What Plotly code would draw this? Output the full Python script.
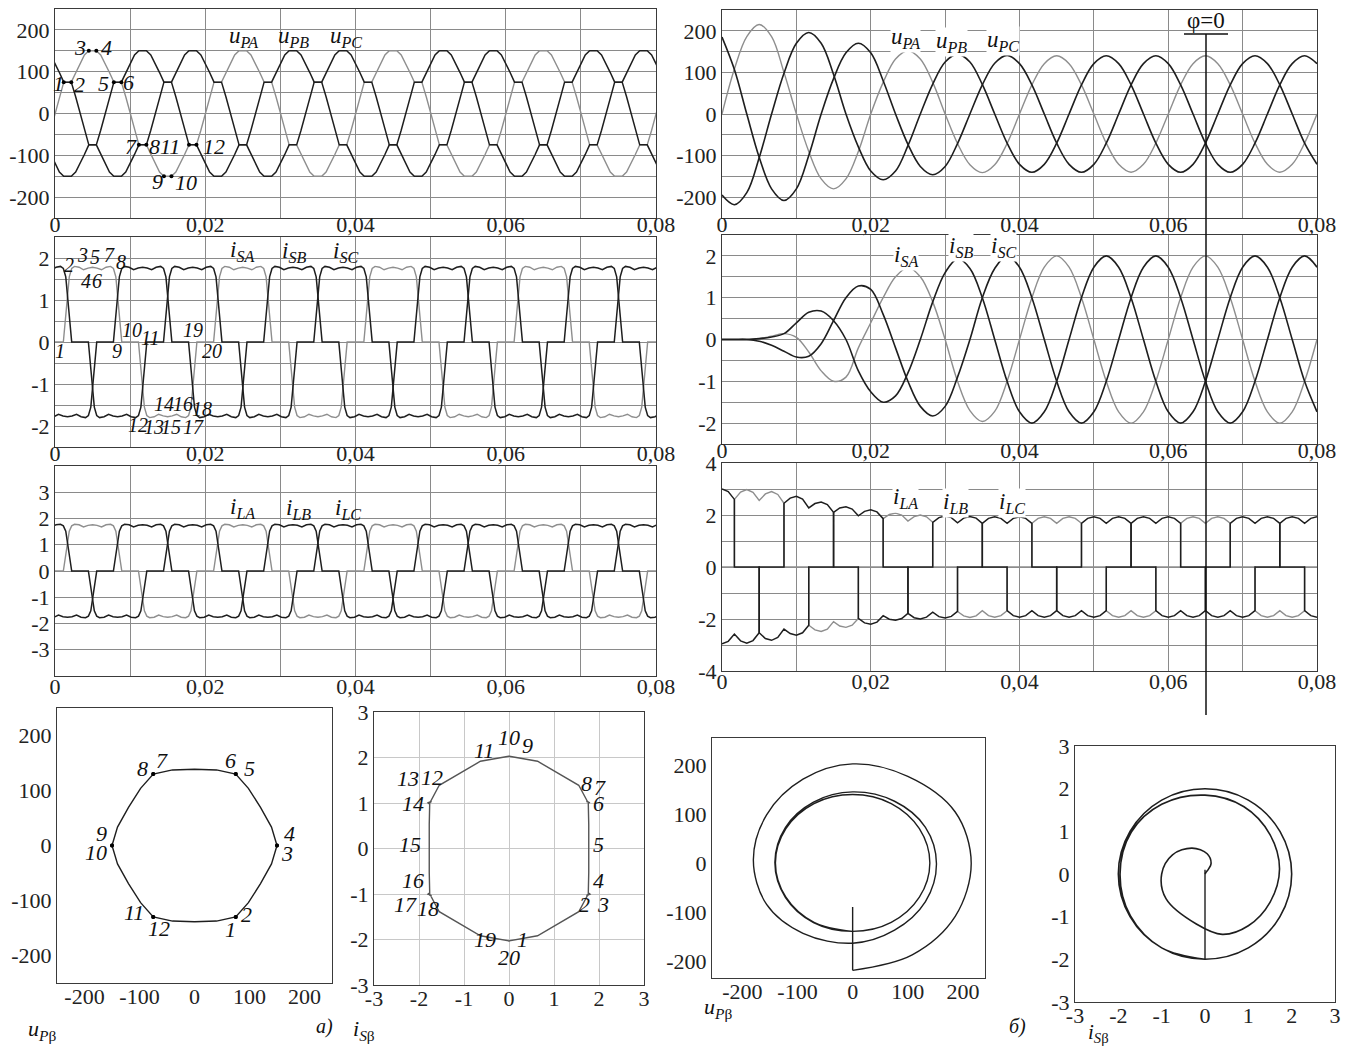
import numpy as np
import plotly.graph_objects as go

W, H = 1349, 1047
T_PERIOD = 0.02
SQ3 = np.sqrt(3.0)

# ---------------- DATA ----------------
# Left column (steady state): one period of phase A, B and C are the same wave lagging by T/3, 2T/3
UPA_T = [0, 0.000583, 0.001167, 0.002167, 0.00275, 0.003333, 0.003917, 0.0045, 0.0055, 0.006083,
         0.006667, 0.00725, 0.007833, 0.008833, 0.009417, 0.01, 0.010583, 0.011167, 0.012167,
         0.01275, 0.013333, 0.013917, 0.0145, 0.0155, 0.016083, 0.016667, 0.01725, 0.017833,
         0.018833, 0.019417, 0.02]
UPA_V = [0, 40, 75, 75, 98, 120, 140, 150, 150, 140, 120, 98, 75, 75, 40, 0, -40, -75, -75,
         -98, -120, -140, -150, -150, -140, -120, -98, -75, -75, -40, 0]

ISA_T = [0, 0.00111, 0.0019, 0.00222, 0.0026, 0.0032, 0.0038, 0.0044, 0.005, 0.0056, 0.0062,
         0.0068, 0.0074, 0.00778, 0.0081, 0.00889, 0.01111, 0.0119, 0.01222, 0.0126, 0.0132,
         0.0138, 0.0144, 0.015, 0.0156, 0.0162, 0.0168, 0.0174, 0.01778, 0.0181, 0.01889, 0.02]
ISA_V = [0, 0, 1.55, 1.75, 1.8, 1.78, 1.72, 1.76, 1.78, 1.76, 1.72, 1.78, 1.8, 1.75, 1.55, 0,
         0, -1.55, -1.75, -1.8, -1.78, -1.72, -1.76, -1.78, -1.76, -1.72, -1.78, -1.8, -1.75,
         -1.55, 0, 0]

ILA_T = ISA_T
ILA_V = [0, 0, 1.52, 1.72, 1.78, 1.76, 1.68, 1.74, 1.76, 1.74, 1.68, 1.76, 1.78, 1.72, 1.52, 0,
         0, -1.52, -1.72, -1.78, -1.76, -1.68, -1.74, -1.76, -1.74, -1.68, -1.76, -1.78, -1.72,
         -1.52, 0, 0]

# Right column (start-up): samples every 1/600 s (k = 0..48)
UR_A = [0, 108, 186, 215, 186, 100, 0, -90, -156, -180, -156, -90, 0, 76, 132, 152, 132, 76,
        0, -71, -122, -141, -122, -71, 0, 70, 121, 140, 121, 70, 0, -70, -121, -140, -121, -70,
        0, 70, 121, 140, 121, 70, 0, -70, -121, -140, -121, -70, 0]
UR_B = [-195, -218, -189, -105, 0, 98, 170, 196, 170, 95, 0, -79, -137, -158, -137, -76, 0, 72,
        125, 144, 125, 71, 0, -70, -121, -140, -121, -70, 0, 70, 121, 140, 121, 70, 0, -70,
        -121, -140, -121, -70, 0, 70, 121, 140, 121, 70, 0, -70, -121]
UR_C = [185, 107, 0, -104, -180, -208, -180, -100, 0, 85, 147, 170, 147, 80, 0, -73, -126, -146,
        -126, -71, 0, 70, 122, 141, 121, 70, 0, -70, -121, -140, -121, -70, 0, 70, 121, 140,
        121, 70, 0, -70, -121, -140, -121, -70, 0, 70, 121, 140, 121]

IR_A = [0, 0, 0, 0.02, 0.08, 0.14, 0.05, -0.3, -0.75, -1.0, -0.9, -0.2, 0.4, 1.0, 1.5, 1.72,
        1.5, 0.9, 0, -1.0, -1.7, -1.96, -1.72, -1.0, 0, 1.0, 1.73, 2.0, 1.73, 1.0, 0, -1.0,
        -1.73, -2.0, -1.73, -1.0, 0, 1.0, 1.73, 2.0, 1.73, 1.0, 0, -1.0, -1.73, -2.0, -1.73, -1.0, 0]
IR_B = [0, 0, 0, 0.02, 0.06, 0.14, 0.4, 0.65, 0.68, 0.45, 0, -0.75, -1.25, -1.5, -1.35, -0.8,
        0, 0.9, 1.6, 1.93, 1.7, 1.0, 0, -1.0, -1.73, -2.0, -1.73, -1.0, 0, 1.0, 1.73, 2.0,
        1.73, 1.0, 0, -1.0, -1.73, -2.0, -1.73, -1.0, 0, 1.0, 1.73, 2.0, 1.73, 1.0, 0, -1.0, -1.73]
IR_C = [0, 0, 0, -0.04, -0.14, -0.28, -0.42, -0.4, -0.1, 0.45, 1.0, 1.28, 1.2, 0.6, -0.2, -1.0,
        -1.6, -1.83, -1.6, -0.9, 0, 1.0, 1.7, 2.0, 1.73, 1.0, 0, -1.0, -1.73, -2.0, -1.73, -1.0,
        0, 1.0, 1.73, 2.0, 1.73, 1.0, 0, -1.0, -1.73, -2.0, -1.73, -1.0, 0, 1.0, 1.73, 2.0, 1.73]

# Right i_L: scalloped upper / lower envelopes, samples every 1/1200 s (j = 0..96)
ENV_TOP = [3.00, 2.90, 2.60, 2.88, 2.98, 2.87, 2.56, 2.81, 2.90, 2.79, 2.45, 2.65, 2.72, 2.61,
           2.27, 2.44, 2.50, 2.40, 2.10, 2.27, 2.32, 2.23, 1.97, 2.14, 2.20, 2.12, 1.86, 2.02,
           2.07, 2.00, 1.77, 1.94, 2.00, 1.93, 1.72, 1.90, 1.96, 1.90, 1.70, 1.88, 1.94, 1.88,
           1.68, 1.87] + [1.93, 1.87, 1.68, 1.87] * 13 + [1.93]
ENV_BOT = [-2.95, -2.86, -2.58, -2.84, -2.93, -2.83, -2.53, -2.75, -2.82, -2.71, -2.39, -2.56,
           -2.62, -2.53, -2.24, -2.42, -2.48, -2.39, -2.10, -2.27, -2.32, -2.24, -1.98, -2.15,
           -2.20, -2.12, -1.87, -2.01, -2.05, -1.98, -1.78, -1.95, -2.00, -1.93, -1.74, -1.91,
           -1.96, -1.90, -1.71, -1.88, -1.94, -1.88, -1.68, -1.87] + [-1.93, -1.87, -1.68, -1.87] * 13 + [-1.93]
# conduction state of each phase in the 60-degree intervals m = 0..24 (+1 top, 0 zero, -1 bottom)
STATE_A = [0, 1, 1, 0, -1, -1, 0, 1, 1, 0, -1, -1, 0, 1, 1, 0, -1, -1, 0, 1, 1, 0, -1, -1, 0]
STATE_B = [-1, -1, 0, 1, 1, 0, -1, -1, 0, 1, 1, 0, -1, -1, 0, 1, 1, 0, -1, -1, 0, 1, 1, 0, -1]
STATE_C = [1, 0, -1, -1, 0, 1, 1, 0, -1, -1, 0, 1, 1, 0, -1, -1, 0, 1, 1, 0, -1, -1, 0, 1, 1]

# start-up stems seen in the right-hand hodographs (beta values on the alpha = 0 line)
U_STEM_TOP = -90
I_STEM_TOP = 0.1
I_STEM_BOTTOM = -2.0

X_TICKS = [0, 0.01, 0.02, 0.03, 0.04, 0.05, 0.06, 0.07, 0.08]
X_TICK_TEXT = ["0", "", "0,02", "", "0,04", "", "0,06", "", "0,08"]

# ---------------- STYLE ----------------
DARK = "#1e1e1e"
GRAY = "#8e8e8e"
GRIDC = "#8a8a8a"
FONT = "Liberation Serif, Times New Roman, serif"


def dom_x(x0, x1):
    return [x0 / W, x1 / W]


def dom_y(y0, y1):
    return [1 - y1 / H, 1 - y0 / H]


def tile(t, v, n0=-1, n1=5):
    tt, vv = [], []
    for n in range(n0, n1):
        tt += [x + n * T_PERIOD for x in t[:-1]]
        vv += list(v[:-1])
    return np.array(tt), np.array(vv)


fig = go.Figure()
annotations = []
shapes = []
layout = {}

PANELS = {
    1: (55, 656, 9, 218),
    2: (55, 656, 237, 447),
    3: (55, 656, 466, 676),
    4: (722, 1317, 10, 218),
    5: (722, 1317, 235, 444),
    6: (722, 1317, 463, 671),
    7: (57, 332, 708, 983),
    8: (374, 644, 712, 985),
    9: (712, 985, 738, 978),
    10: (1075, 1335, 746, 1002),
}


def axkey(i, c):
    return f"{c}axis" if i == 1 else f"{c}axis{i}"


def ref(i, c):
    return c if i == 1 else f"{c}{i}"


tickfont = dict(family=FONT, size=22, color="#222")


def set_axes(i, xr, yr, xtv, xtt, ytv, ytt, grid=True, standoff=-13):
    x0, x1, y0, y1 = PANELS[i]
    common = dict(showline=True, mirror=True, linecolor="#3a3a3a", linewidth=1, ticks="",
                  zeroline=False, showgrid=grid, gridcolor=GRIDC, gridwidth=1,
                  tickfont=tickfont, tickmode="array", fixedrange=True, automargin=False)
    layout[axkey(i, "x")] = dict(domain=dom_x(x0, x1), range=xr, tickvals=xtv, ticktext=xtt,
                                 anchor=ref(i, "y"), ticklabelstandoff=standoff, **common)
    layout[axkey(i, "y")] = dict(domain=dom_y(y0, y1), range=yr, tickvals=ytv, ticktext=ytt,
                                 anchor=ref(i, "x"), **common)


def line(i, x, y, color, width=1.5, shape="linear"):
    fig.add_trace(go.Scatter(x=x, y=y, mode="lines", line=dict(color=color, width=width, shape=shape),
                             xaxis=ref(i, "x"), yaxis=ref(i, "y"), showlegend=False, hoverinfo="skip"))


def dots(i, x, y, size=4):
    fig.add_trace(go.Scatter(x=x, y=y, mode="markers", marker=dict(color="#000", size=size),
                             xaxis=ref(i, "x"), yaxis=ref(i, "y"), showlegend=False, hoverinfo="skip"))


def label(i, text, x, y, size=20, bg=None):
    d = dict(text=text, x=x, y=y, xref=ref(i, "x"), yref=ref(i, "y"), showarrow=False,
             xanchor="center", yanchor="middle",
             font=dict(family=FONT, size=size, color="#111"))
    if bg:
        d["bgcolor"] = bg
        d["borderpad"] = 0
    annotations.append(d)


def ptext(text, px, py, size=20):
    annotations.append(dict(text=text, x=px / W, y=1 - py / H, xref="paper", yref="paper",
                            xanchor="center", yanchor="middle", showarrow=False,
                            font=dict(family=FONT, size=size, color="#111")))


# ---------------- time plots axes ----------------
u_grid = list(range(-250, 251, 50))
u_txt = [str(v) if v in (-200, -100, 0, 100, 200) else "" for v in u_grid]
i_grid = [x / 2 for x in range(-5, 6)]
i_txt = [str(int(v)) if float(v).is_integer() and abs(v) <= 2 else "" for v in i_grid]
l_grid = list(range(-4, 5))
l_txt_left = [str(v) if abs(v) <= 3 else "" for v in l_grid]
l_txt_right = [str(v) if v % 2 == 0 else "" for v in l_grid]

set_axes(1, [0, 0.08], [-250, 250], X_TICKS, X_TICK_TEXT, u_grid, u_txt)
set_axes(2, [0, 0.08], [-2.5, 2.5], X_TICKS, X_TICK_TEXT, i_grid, i_txt)
set_axes(3, [0, 0.08], [-4, 4], X_TICKS, X_TICK_TEXT, l_grid, l_txt_left, standoff=-9)
set_axes(4, [0, 0.08], [-250, 250], X_TICKS, X_TICK_TEXT, u_grid, u_txt)
set_axes(5, [0, 0.08], [-2.5, 2.5], X_TICKS, X_TICK_TEXT, i_grid, i_txt)
set_axes(6, [0, 0.08], [-4, 4], X_TICKS, X_TICK_TEXT, l_grid, l_txt_right, standoff=-9)

# ---------------- left time plots ----------------
for panel, (T, V) in [(1, (UPA_T, UPA_V)), (2, (ISA_T, ISA_V)), (3, (ILA_T, ILA_V))]:
    ta, va = tile(T, V)
    line(panel, ta, va, GRAY, 1.4)
    line(panel, ta + T_PERIOD / 3, va, DARK, 1.5)
    line(panel, ta + 2 * T_PERIOD / 3, va, DARK, 1.5)

# dwell points of u_PA (labelled 1..12)
dw_t, dw_v = [], []
for k in range(len(UPA_V) - 1):
    if UPA_V[k] == UPA_V[k + 1] and UPA_V[k] != 0:
        dw_t += [UPA_T[k], UPA_T[k + 1]]
        dw_v += [UPA_V[k], UPA_V[k + 1]]
dots(1, dw_t, dw_v, 4)

# ---------------- right time plots ----------------
tk = np.arange(len(UR_A)) / 600.0
for series, col in [(UR_A, GRAY), (UR_B, DARK), (UR_C, DARK)]:
    line(4, tk, series, col, 1.6 if col == DARK else 1.4, "spline")
for series, col in [(IR_A, GRAY), (IR_B, DARK), (IR_C, DARK)]:
    line(5, tk, series, col, 1.6 if col == DARK else 1.4, "spline")

tj = np.arange(len(ENV_TOP)) / 1200.0
for state, col in [(STATE_A, GRAY), (STATE_B, DARK), (STATE_C, DARK)]:
    xs, ys = [], []
    for m, s in enumerate(state):
        j0, j1 = max(4 * m - 2, 0), min(4 * m + 2, len(ENV_TOP) - 1)
        for j in range(j0, j1 + 1):
            xs.append(tj[j])
            ys.append(ENV_TOP[j] if s > 0 else (ENV_BOT[j] if s < 0 else 0.0))
    line(6, xs, ys, col, 1.5 if col == DARK else 1.4)

# ---------------- hodographs ----------------
hx_u = [-200, -100, 0, 100, 200]
hx_u_t = [str(v) for v in hx_u]
hx_i = [-3, -2, -1, 0, 1, 2, 3]
hx_i_t = [str(v) for v in hx_i]
set_axes(7, [-250, 250], [-250, 250], hx_u, hx_u_t, hx_u, hx_u_t, grid=False, standoff=-6)
set_axes(8, [-3, 3], [-3, 3], hx_i, hx_i_t, hx_i, hx_i_t, grid=True, standoff=-6)
layout["xaxis8"]["gridcolor"] = "#c8c8c8"
layout["yaxis8"]["gridcolor"] = "#c8c8c8"
set_axes(9, [-255, 240], [-235, 255], hx_u, hx_u_t, hx_u, hx_u_t, grid=False, standoff=-6)
set_axes(10, [-3, 3], [-3, 3], hx_i, hx_i_t, hx_i, hx_i_t, grid=False, standoff=-6)


def clarke_periodic(T, V, tq):
    a = np.interp(tq, T, V, period=T_PERIOD)
    b = np.interp(tq - T_PERIOD / 3, T, V, period=T_PERIOD)
    c = np.interp(tq - 2 * T_PERIOD / 3, T, V, period=T_PERIOD)
    return a, (b - c) / SQ3


tq = np.unique(np.concatenate([np.array(UPA_T), np.array(UPA_T) + T_PERIOD / 3,
                               np.array(UPA_T) + 2 * T_PERIOD / 3]) % T_PERIOD)
tq = np.append(tq, tq[0])
ax, bx = clarke_periodic(UPA_T, UPA_V, tq)
line(7, ax, bx, DARK, 1.4)
da, db = clarke_periodic(UPA_T, UPA_V, np.array(dw_t))
dots(7, da, db, 4)

tq2 = np.unique(np.concatenate([np.array(ISA_T), np.array(ISA_T) + T_PERIOD / 3,
                                np.array(ISA_T) + 2 * T_PERIOD / 3]) % T_PERIOD)
tq2 = np.append(tq2, tq2[0])
ax2, bx2 = clarke_periodic(ISA_T, ISA_V, tq2)
line(8, ax2, bx2, "#555", 1.4)

ua = np.array(UR_A, float)
ub = (np.array(UR_B, float) - np.array(UR_C, float)) / SQ3
line(9, ua, ub, DARK, 1.4, "spline")
line(9, [0, ua[0]], [U_STEM_TOP, ub[0]], DARK, 1.4)
ia = np.array(IR_A, float)
ib = (np.array(IR_B, float) - np.array(IR_C, float)) / SQ3
line(10, ia, ib, DARK, 1.6, "spline")
line(10, [0, 0], [I_STEM_TOP, I_STEM_BOTTOM], DARK, 1.4)

# ---------------- labels ----------------
def sub(base, s):
    return f"<i>{base}<sub>{s}</sub></i>"


for i, (x, y) in zip(["PA", "PB", "PC"], [(0.0251, 182), (0.0318, 182), (0.0387, 182)]):
    label(1, sub("u", i), x, y, 23)
for i, (x, y) in zip(["SA", "SB", "SC"], [(0.0249, 2.17), (0.0318, 2.15), (0.0387, 2.15)]):
    label(2, sub("i", i), x, y, 23)
for i, (x, y) in zip(["LA", "LB", "LC"], [(0.0249, 2.4), (0.0324, 2.38), (0.0390, 2.38)]):
    label(3, sub("i", i), x, y, 23)
for i, (x, y) in zip(["PA", "PB", "PC"], [(0.0247, 182), (0.0308, 172), (0.0378, 176)]):
    label(4, sub("u", i), x, y, 23, bg="white")
for i, (x, y) in zip(["SA", "SB", "SC"], [(0.0247, 2.0), (0.0321, 2.22), (0.0378, 2.22)]):
    label(5, sub("i", i), x, y, 23, bg="white")
for i, (x, y) in zip(["LA", "LB", "LC"], [(0.0247, 2.67), (0.0314, 2.48), (0.0390, 2.48)]):
    label(6, sub("i", i), x, y, 23, bg="white")

for n, x, y in [("1", 0.0005, 72), ("2", 0.0033, 70), ("3", 0.0033, 158), ("4", 0.0069, 158),
                ("5", 0.0064, 72), ("6", 0.0098, 75), ("7", 0.0101, -78), ("8", 0.0133, -78),
                ("11", 0.0153, -78), ("12", 0.0211, -78), ("9", 0.0136, -162), ("10", 0.0175, -165)]:
    label(1, f"<i>{n}</i>", x, y, 22)

for n, x, y in [("1", 0.0007, -0.22), ("2", 0.0019, 1.83), ("3", 0.0037, 2.08), ("5", 0.0053, 2.03),
                ("7", 0.0072, 2.08), ("8", 0.0088, 1.9), ("4", 0.0041, 1.45), ("6", 0.0056, 1.45),
                ("9", 0.0082, -0.22), ("10", 0.0102, 0.28), ("11", 0.0127, 0.1), ("19", 0.0184, 0.28),
                ("20", 0.0209, -0.22), ("12", 0.0111, -1.98), ("13", 0.0132, -2.02), ("15", 0.0154, -2.02),
                ("17", 0.0184, -2.02), ("14", 0.0145, -1.47), ("16", 0.0171, -1.47), ("18", 0.0196, -1.6)]:
    label(2, f"<i>{n}</i>", x, y, 20)

for n, x, y in [("1", 65, -152), ("2", 95, -125), ("3", 168, -15), ("4", 172, 22), ("5", 100, 140),
                ("6", 66, 155), ("7", -60, 155), ("8", -95, 140), ("9", -170, 22), ("10", -180, -12),
                ("11", -110, -122), ("12", -64, -150)]:
    label(7, f"<i>{n}</i>", x, y, 22)

for n, x, y in [("10", 0.0, 2.45), ("9", 0.42, 2.27), ("11", -0.55, 2.15), ("8", 1.73, 1.42),
                ("7", 2.02, 1.33), ("6", 1.98, 1.0), ("5", 1.98, 0.08), ("4", 1.98, -0.7),
                ("2", 1.67, -1.24), ("3", 2.09, -1.24), ("13", -2.24, 1.53), ("12", -1.72, 1.55),
                ("14", -2.13, 1.0), ("15", -2.2, 0.08), ("16", -2.13, -0.7), ("17", -2.29, -1.22),
                ("18", -1.8, -1.31), ("19", -0.53, -2.0), ("1", 0.29, -2.0), ("20", 0.0, -2.4)]:
    label(8, f"<i>{n}</i>", x, y, 22)

# axis captions under the hodographs
ptext("<i>u</i><sub><i>P</i>β</sub>", 42, 1030, 22)
ptext("<i>а)</i>", 324, 1026, 20)
ptext("<i>i</i><sub><i>S</i>β</sub>", 364, 1030, 22)
ptext("<i>u</i><sub><i>P</i>β</sub>", 718, 1008, 22)
ptext("<i>б)</i>", 1017, 1026, 20)
ptext("<i>i</i><sub><i>S</i>β</sub>", 1098, 1033, 21)

# phi = 0 marker
ptext("φ=0", 1206, 21, 23)
shapes.append(dict(type="line", xref="paper", yref="paper", x0=1184 / W, x1=1228 / W,
                   y0=1 - 34 / H, y1=1 - 34 / H, line=dict(color="#111", width=1.5)))
shapes.append(dict(type="line", xref="paper", yref="paper", x0=1206 / W, x1=1206 / W,
                   y0=1 - 34 / H, y1=1 - 715 / H, line=dict(color="#111", width=1.5)))

fig.update_layout(width=W, height=H, margin=dict(l=0, r=0, t=0, b=0, autoexpand=False),
                  paper_bgcolor="white", plot_bgcolor="white",
                  annotations=annotations, shapes=shapes, **layout)
fig.write_html("out.html", config={"displayModeBar": False},
               post_script="document.body.style.margin='0px';document.body.style.padding='0px';")
